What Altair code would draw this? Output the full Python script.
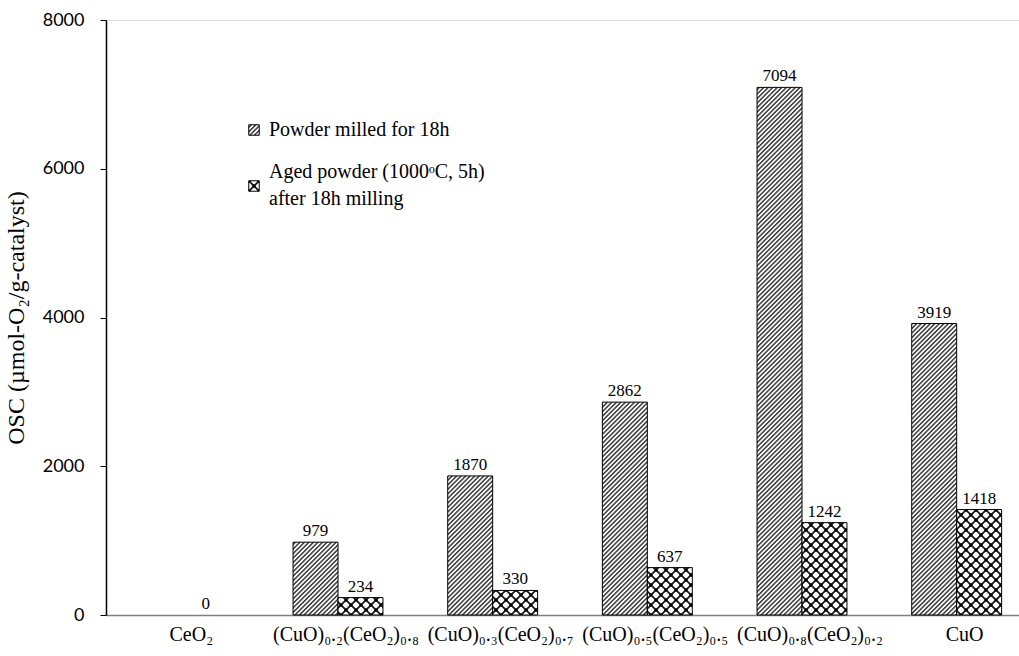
import altair as alt
import pandas as pd
import jinja2

# ---- data -------------------------------------------------------------
categories = [
    "CeO₂",
    "(CuO)₀.₂(CeO₂)₀.₈",
    "(CuO)₀.₃(CeO₂)₀.₇",
    "(CuO)₀.₅(CeO₂)₀.₅",
    "(CuO)₀.₈(CeO₂)₀.₂",
    "CuO",
]
series = [
    "Powder milled for 18h",
    "Aged powder (1000ᵒC, 5h)\nafter 18h milling",
]
milled = [None, 979, 1870, 2862, 7094, 3919]
aged = [0, 234, 330, 637, 1242, 1418]
y_ticks = [0, 2000, 4000, 6000, 8000]

rows = []
for cat, m, a in zip(categories, milled, aged):
    rows.append({"cat": cat, "series": series[0], "osc": m})
    rows.append({"cat": cat, "series": series[1], "osc": a})
df = pd.DataFrame(rows)

# hatch fills are SVG patterns defined in the page (see PAGE below)
HATCH = "url(#hatch) #8c8c8c"
CROSS = "url(#cross) #555555"

SERIF = "Liberation Serif"

x_enc = alt.X(
    "cat:N",
    sort=categories,
    scale=alt.Scale(range=[0, 928], paddingInner=0, paddingOuter=0),
    axis=alt.Axis(
        title=None,
        labelAngle=0,
        ticks=False,
        domainColor="#808080",
        domainWidth=1.5,
        labelFont=SERIF,
        labelFontSize=20,
        labelColor="black",
        labelPadding=9,
        labelOffset=8,
        labelLimit=300,
    ),
)
xo_enc = alt.XOffset(
    "series:N", sort=series, scale=alt.Scale(paddingInner=0, paddingOuter=0.72)
)
y_enc = alt.Y(
    "osc:Q",
    scale=alt.Scale(domain=[0, 8000], nice=False),
    axis=alt.Axis(
        values=y_ticks,
        title="OSC (µmol-O₂/g-catalyst)",
        titleFont=SERIF,
        titleFontSize=24,
        titleFontWeight="normal",
        titleColor="black",
        titlePadding=14,
        grid=False,
        domainColor="black",
        domainWidth=1.5,
        tickColor="black",
        tickSize=6,
        labelFont="Lato",
        labelFontSize=18,
        labelColor="black",
        labelPadding=16,
        format="d",
    ),
)
fill_enc = alt.Fill(
    "series:N",
    sort=series,
    scale=alt.Scale(domain=series, range=[HATCH, CROSS]),
    legend=alt.Legend(
        title=None,
        orient="none",
        legendX=138,
        legendY=100,
        padding=0,
        symbolType="square",
        symbolSize=110,
        symbolStrokeColor="black",
        symbolStrokeWidth=1,
        labelFont=SERIF,
        labelFontSize=20,
        labelColor="black",
        labelOffset=5,
        labelLimit=400,
        rowPadding=22,
        labelExpr=r"split(datum.label, '\n')",
        # two-line entry sits centred on its swatch
        labelBaseline=alt.ExprRef(
            "indexof(datum.value, 'after') >= 0 ? 'line-bottom' : 'middle'"
        ),
    ),
)

bars = (
    alt.Chart(df)
    .transform_filter("isValid(datum.osc) && datum.osc > 0")
    .mark_bar(stroke="black", strokeWidth=1)
    .encode(x=x_enc, xOffset=xo_enc, y=y_enc, fill=fill_enc)
)

labels = (
    alt.Chart(df)
    .transform_filter("isValid(datum.osc)")
    .mark_text(baseline="bottom", dy=-2, font=SERIF, fontSize=17, color="black")
    .encode(x=x_enc, xOffset=xo_enc, y=y_enc, text=alt.Text("osc:Q", format="d"))
)

chart = (
    alt.layer(bars, labels)
    .properties(
        width=913,
        height=595,
        autosize=alt.AutoSizeParams(type="none"),
        padding={"left": 106, "top": 20, "right": 0, "bottom": 41},
    )
    .configure_view(stroke=None)
    .configure(style={"guide-label": {"lineHeight": 27}})
)

PAGE = jinja2.Template("""<!DOCTYPE html>
<html>
<head>
  <meta charset="utf-8">
  <style>
    #{{ output_div }}.vega-embed { width: 100%; display: flex; }
    #{{ output_div }}.vega-embed details,
    #{{ output_div }}.vega-embed details summary { position: relative; }
  </style>
  <script type="text/javascript" src="{{ base_url }}/vega@{{ vega_version }}"></script>
  <script type="text/javascript" src="{{ base_url }}/vega-lite@{{ vegalite_version }}"></script>
  <script type="text/javascript" src="{{ base_url }}/vega-embed@{{ vegaembed_version }}"></script>
</head>
<body>
  <svg width="0" height="0" style="position:absolute">
    <defs>
      <pattern id="hatch" patternUnits="userSpaceOnUse" width="3.2" height="3.2"
               patternTransform="rotate(45)">
        <rect width="3.2" height="3.2" fill="#ffffff"/>
        <rect width="1.5" height="3.2" fill="#3a3a3a"/>
      </pattern>
      <pattern id="cross" patternUnits="userSpaceOnUse" width="10" height="10">
        <rect width="10" height="10" fill="#ffffff"/>
        <path d="M-1,-1L11,11M11,-1L-1,11" stroke="#1a1a1a" stroke-width="1.8"/>
        <circle cx="5" cy="5" r="1.7" fill="#000"/>
        <circle cx="0" cy="0" r="1.7" fill="#000"/>
        <circle cx="10" cy="0" r="1.7" fill="#000"/>
        <circle cx="0" cy="10" r="1.7" fill="#000"/>
        <circle cx="10" cy="10" r="1.7" fill="#000"/>
      </pattern>
    </defs>
  </svg>
  <div id="{{ output_div }}"></div>
  <script type="text/javascript">
    var opt = Object.assign({"mode": "vega-lite"}, {{ embed_options }});
    vegaEmbed("#{{ output_div }}", {{ spec }}, opt).catch(console.error);
  </script>
</body>
</html>
""")

chart.save(
    "out.html",
    embed_options={"renderer": "svg", "actions": False},
    template=PAGE,
)
